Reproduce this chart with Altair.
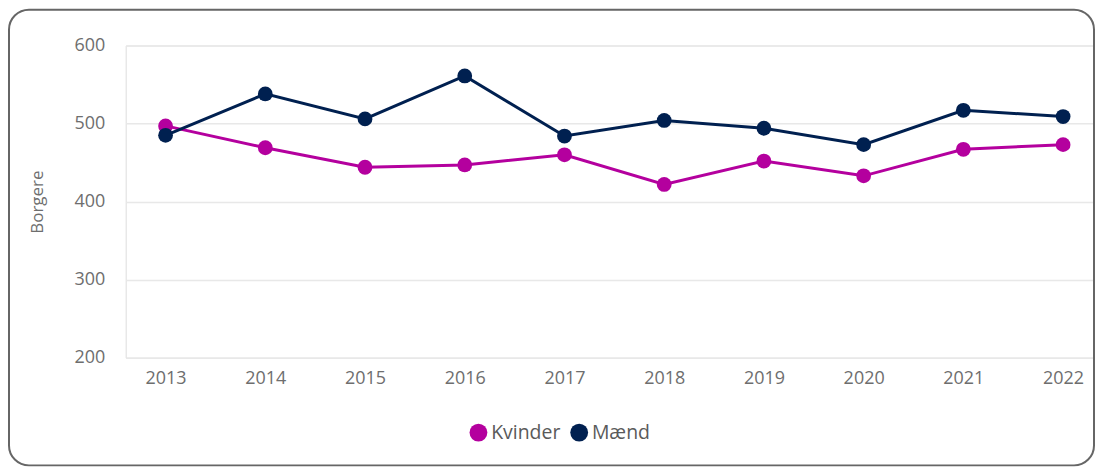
import altair as alt
import pandas as pd

years = [2013, 2014, 2015, 2016, 2017, 2018, 2019, 2020, 2021, 2022]
kvinder = [497, 469, 444, 447, 460, 422, 452, 433, 467, 473]
maend = [485, 538, 506, 561, 484, 504, 494, 473, 517, 509]
series = ["Kvinder", "Mænd"]
colors = ["#B4009E", "#002050"]
y_ticks = [200, 300, 400, 500, 600]

rows = []
for y, v in zip(years, kvinder):
    rows.append({"year": y, "serie": series[0], "value": v})
for y, v in zip(years, maend):
    rows.append({"year": y, "serie": series[1], "value": v})
df = pd.DataFrame(rows)

FONT = "Open Sans"
TXT = "#6e6e6e"
W, H = 972, 313

base = alt.Chart(df).encode(
    x=alt.X("year:Q",
            scale=alt.Scale(domain=[2012.6, 2022.32], nice=False, zero=False),
            axis=alt.Axis(values=years, format="d", title=None, grid=False,
                          domain=False, ticks=False, labelPadding=12,
                          labelFontSize=18, labelColor=TXT, labelFont=FONT)),
    y=alt.Y("value:Q",
            scale=alt.Scale(domain=[200, 600], nice=False, zero=False),
            axis=alt.Axis(values=y_ticks, title="Borgere", domain=False, ticks=False,
                          labelPadding=21, labelFontSize=18, labelColor=TXT,
                          labelFont=FONT, titleFont=FONT, titleFontSize=17,
                          titleFontWeight="normal", titleColor=TXT,
                          titlePadding=28, gridColor="#e8e8e8", gridWidth=1.5)),
    color=alt.Color("serie:N",
                    scale=alt.Scale(domain=series, range=colors),
                    legend=alt.Legend(title=None, orient="none", direction="horizontal",
                                      legendX=344, legendY=378, symbolType="circle",
                                      symbolSize=320, symbolStrokeWidth=0,
                                      labelFontSize=19.5, labelColor="#5a5a5a",
                                      labelFont=FONT, columnPadding=9, labelOffset=3)),
)

lines = base.mark_line(strokeWidth=3)
points = base.mark_point(filled=True, size=220, opacity=1)

border = alt.Chart(pd.DataFrame({"a": [0]})).mark_rect(
    fill="transparent", stroke="#666666", strokeWidth=2, cornerRadius=20
).encode(
    x=alt.value(-117), x2=alt.value(971), y=alt.value(-36), y2=alt.value(421)
)

chart = alt.layer(border, lines, points).properties(
    width=W, height=H,
    autosize=alt.AutoSizeParams(type="none"),
    padding={"left": 118, "top": 37, "right": 0, "bottom": 110},
).configure_view(stroke=None).configure(background="white")

chart.save("out.html", embed_options={"renderer": "svg", "actions": False})
